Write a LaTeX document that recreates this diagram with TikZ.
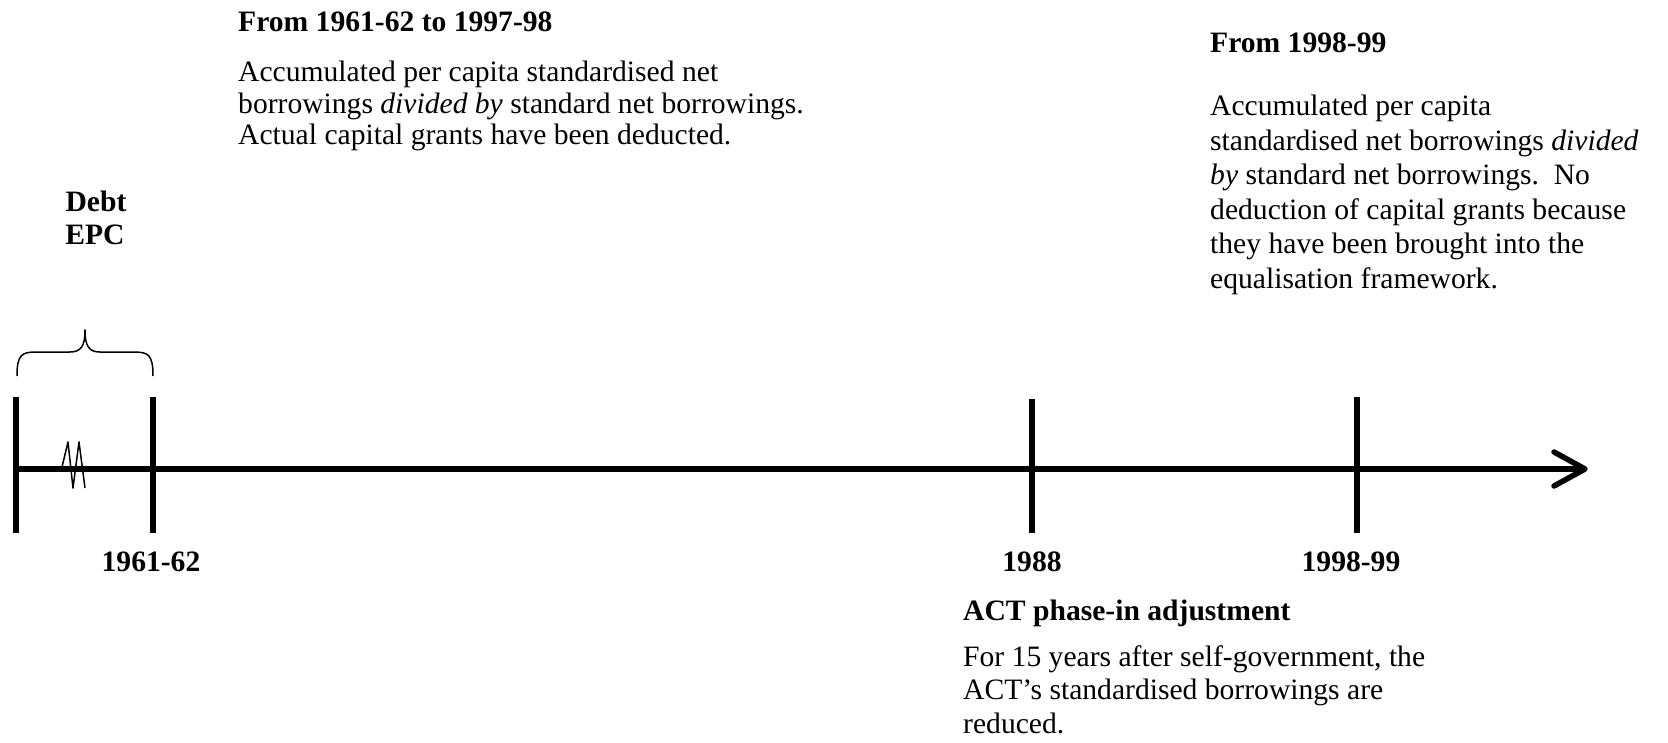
\documentclass[tikz,border=0pt]{standalone}
\usepackage{fontspec}
\setmainfont{Liberation Serif}
\begin{document}
\begin{tikzpicture}[x=1pt,y=-1pt,
  txt/.style={inner sep=0pt, anchor=base west, font=\fontsize{29.6}{34}\selectfont},
  btxt/.style={txt, font=\fontsize{29.6}{34}\selectfont\bfseries},
  yearlbl/.style={inner sep=0pt, anchor=base, font=\fontsize{29.6}{34}\selectfont\bfseries},
  axisline/.style={line width=5.5pt, line cap=butt},
  tickline/.style={line width=5.5pt},
  thinline/.style={line width=1.5pt, line join=round}]
\useasboundingbox (0,0) rectangle (1668,743);

% axis coordinates
\coordinate (start) at (16,469);
\coordinate (tip) at (1585,469);
\coordinate (armA) at (1554,452);
\coordinate (armB) at (1554,486);
\coordinate (t0top) at (16,397);   \coordinate (t0bot) at (16,533);
\coordinate (t1top) at (153,397);  \coordinate (t1bot) at (153,533);
\coordinate (t2top) at (1032,399); \coordinate (t2bot) at (1032,533);
\coordinate (t3top) at (1357,397); \coordinate (t3bot) at (1357,533);

% main axis
\draw[axisline] (start) -- (tip);
\draw[line width=5.5pt, line cap=round, line join=round] (armA) -- (tip) -- (armB);

% ticks
\draw[tickline] (t0top) -- (t0bot);
\draw[tickline] (t1top) -- (t1bot);
\draw[tickline] (t2top) -- (t2bot);
\draw[tickline] (t3top) -- (t3bot);

% break mark
\draw[thinline] (62,467) -- (68,442) -- (73,488) -- (79,442) -- (85,488);

% brace
\draw[thinline] (17,376) .. controls (17,354) and (22,352) .. (37,352) -- (70,352)
  .. controls (81,352) and (85,346) .. (85,330)
  .. controls (85,346) and (89,352) .. (100,352) -- (133,352)
  .. controls (148,352) and (153,354) .. (153,376);

% Debt EPC
\node[yearlbl] (debt) at (96,212) {Debt};
\node[yearlbl] (epc) at (95,245) {EPC};

% year labels
\node[yearlbl] (y1) at (151,571) {1961-62};
\node[yearlbl] (y2) at (1032,571) {1988};
\node[yearlbl] (y3) at (1351,571) {1998-99};

% left top block
\node[btxt] (h1) at (238,32) {From 1961-62 to 1997-98};
\node[txt] (l1) at (238,82) {Accumulated per capita standardised net};
\node[txt] (l2) at (238,113.5) {borrowings \textit{divided by} standard net borrowings.};
\node[txt] (l3) at (238,145) {Actual capital grants have been deducted.};

% right top block
\node[btxt] (h2) at (1210,53) {From 1998-99};
\node[txt] (r1) at (1210,116) {Accumulated per capita};
\node[txt] (r2) at (1210,150.5) {standardised net borrowings \textit{divided}};
\node[txt] (r3) at (1210,185) {\textit{by} standard net borrowings.\ \ No};
\node[txt] (r4) at (1210,219.5) {deduction of capital grants because};
\node[txt] (r5) at (1210,254) {they have been brought into the};
\node[txt] (r6) at (1210,288.5) {equalisation framework.};

% bottom block
\node[btxt] (h3) at (963,620) {ACT phase-in adjustment};
\node[txt] (b1) at (963,666) {For 15 years after self-government, the};
\node[txt] (b2) at (963,699.5) {ACT’s standardised borrowings are};
\node[txt] (b3) at (963,733) {reduced.};
\end{tikzpicture}
\end{document}
